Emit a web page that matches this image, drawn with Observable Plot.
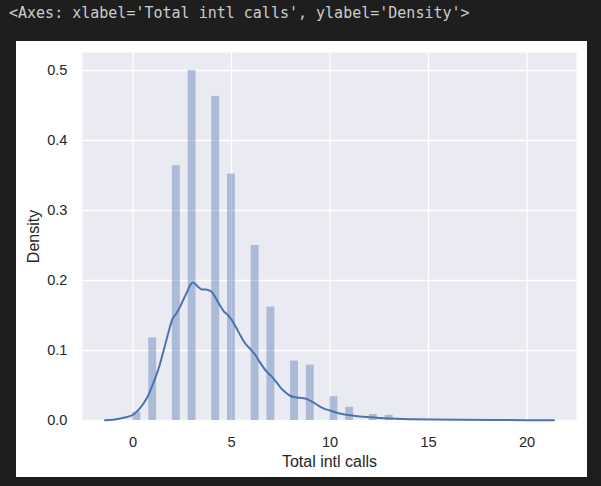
<!DOCTYPE html>
<html><head><meta charset="utf-8">
<script src="https://cdn.jsdelivr.net/npm/d3@7"></script>
<script src="https://cdn.jsdelivr.net/npm/@observablehq/plot@0.6"></script>
<style>
html,body{margin:0;padding:0;background:#1e1e1e;width:601px;height:486px;overflow:hidden;}
#repr{position:absolute;left:9px;top:5.5px;font-family:"DejaVu Sans Mono",monospace;font-size:15px;line-height:15px;color:#cccccc;white-space:pre;}
#panel{position:absolute;left:16px;top:41px;width:571px;height:436px;background:#ffffff;}
</style></head><body>
<div id="repr">&lt;Axes: xlabel='Total intl calls', ylabel='Density'&gt;</div>
<div id="panel"></div>
<script>
// Histogram (density) of Total intl calls, bin width 0.4
const callCounts = [0, 1, 2, 3, 4, 5, 6, 7, 8, 9, 10, 11, 12, 13];
const binStart = [0, 0.8, 2.0, 2.8, 4.0, 4.8, 6.0, 6.8, 8.0, 8.8, 10.0, 10.8, 12.0, 12.8];
const binWidth = 0.4;
const histDensity = [0.012, 0.118, 0.364, 0.500, 0.463, 0.352, 0.250, 0.162, 0.085, 0.079, 0.034, 0.019, 0.0086, 0.0074];

// KDE curve
const kdeX = [-1.42, -1.0, -0.63, -0.3, 0.04, 0.3, 0.55, 0.78, 0.97, 1.15, 1.31, 1.48, 1.65, 1.82, 1.99, 2.2, 2.38, 2.58, 2.75, 2.92, 3.05, 3.2, 3.34, 3.5, 3.68, 3.85, 4.02, 4.2, 4.36, 4.61, 4.8, 5.03, 5.25, 5.46, 5.7, 5.96, 6.2, 6.47, 6.75, 7.07, 7.3, 7.49, 7.75, 8.0, 8.3, 8.6, 8.92, 9.2, 9.43, 9.7, 10.03, 10.5, 11.04, 11.5, 12.06, 12.7, 13.4, 14.2, 15.1, 16.5, 18.5, 20.0, 21.37];
const kdeY = [0.0003, 0.0012, 0.003, 0.005, 0.009, 0.016, 0.025, 0.036, 0.049, 0.062, 0.075, 0.092, 0.110, 0.128, 0.144, 0.153, 0.162, 0.174, 0.184, 0.194, 0.197, 0.194, 0.190, 0.187, 0.187, 0.186, 0.183, 0.175, 0.167, 0.156, 0.151, 0.143, 0.132, 0.121, 0.110, 0.102, 0.094, 0.082, 0.071, 0.062, 0.054, 0.047, 0.040, 0.035, 0.033, 0.032, 0.0295, 0.025, 0.021, 0.017, 0.014, 0.010, 0.0075, 0.0058, 0.0046, 0.0033, 0.0024, 0.0018, 0.0013, 0.001, 0.0008, 0.0005, 0.0002];

const xTicks = [0, 5, 10, 15, 20];
const yTicks = [0.0, 0.1, 0.2, 0.3, 0.4, 0.5];

const hist = callCounts.map((c, i) => ({calls: c, x1: binStart[i], x2: binStart[i] + binWidth, density: histDensity[i]}));
const kde = kdeX.map((x, i) => ({x, y: kdeY[i]}));

const chart = Plot.plot({
  width: 571,
  height: 436,
  marginLeft: 66,
  marginRight: 11,
  marginTop: 11,
  marginBottom: 57,
  style: {fontFamily: '"Liberation Sans", Arial, sans-serif', fontSize: "14.6px", color: "#262626", background: "#ffffff"},
  x: {domain: [-2.563, 22.513]},
  y: {domain: [0, 0.5257]},
  marks: [
    Plot.frame({fill: "#eaeaf2", stroke: "none"}),
    Plot.gridX(xTicks, {stroke: "#ffffff", strokeOpacity: 1, strokeWidth: 1.3}),
    Plot.gridY(yTicks, {stroke: "#ffffff", strokeOpacity: 1, strokeWidth: 1.3}),
    Plot.rectY(hist, {x1: "x1", x2: "x2", y: "density", fill: "#4c72b0", fillOpacity: 0.4}),
    Plot.line(kde, {x: "x", y: "y", stroke: "#4c72b0", strokeWidth: 2, curve: "monotone-x"}),
    Plot.axisX(xTicks, {tickSize: 0, tickPadding: 16, fontSize: 14.6, label: "Total intl calls", labelAnchor: "center", labelArrow: "none", labelOffset: 46}),
    Plot.axisY(yTicks, {tickSize: 0, tickPadding: 15, fontSize: 14.6, tickFormat: d3.format(".1f"), label: "Density", labelAnchor: "center", labelArrow: "none", labelOffset: 55})
  ]
});
// axis label font size (16px like the reference)
chart.querySelectorAll("g[aria-label='x-axis label'] text, g[aria-label='y-axis label'] text").forEach(t => t.setAttribute("font-size", "16"));
document.getElementById("panel").appendChild(chart);
</script>
</body></html>
